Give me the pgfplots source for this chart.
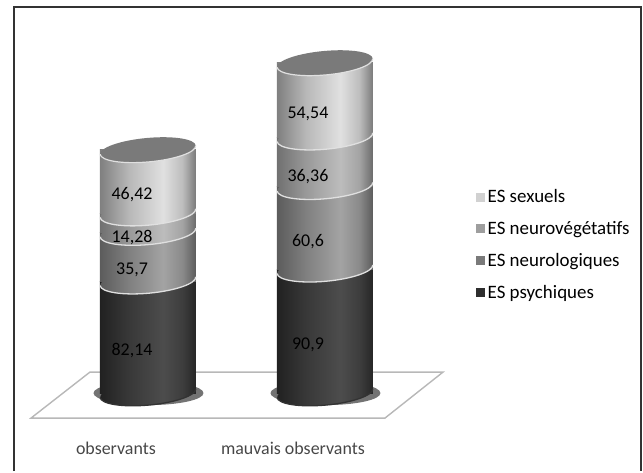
\documentclass[border=0pt]{standalone}
\usepackage{fontspec}
\setmainfont{Carlito}
\usepackage{pgfplots}
\pgfplotsset{compat=1.18}

% cylinder shadings, one per segment (only 25bp..75bp of a shading shows on a path)
\pgfdeclarehorizontalshading{cylD}{100bp}{rgb(0bp)=(.13,.13,.13); rgb(25bp)=(.13,.13,.13); rgb(40bp)=(.22,.22,.22); rgb(58bp)=(.30,.30,.30); rgb(68bp)=(.24,.24,.24); rgb(75bp)=(.15,.15,.15); rgb(100bp)=(.15,.15,.15)}
\pgfdeclarehorizontalshading{cylC}{100bp}{rgb(0bp)=(.36,.36,.36); rgb(25bp)=(.36,.36,.36); rgb(40bp)=(.50,.50,.50); rgb(58bp)=(.64,.64,.64); rgb(68bp)=(.54,.54,.54); rgb(75bp)=(.36,.36,.36); rgb(100bp)=(.36,.36,.36)}
\pgfdeclarehorizontalshading{cylB}{100bp}{rgb(0bp)=(.44,.44,.44); rgb(25bp)=(.44,.44,.44); rgb(40bp)=(.60,.60,.60); rgb(58bp)=(.74,.74,.74); rgb(68bp)=(.64,.64,.64); rgb(75bp)=(.42,.42,.42); rgb(100bp)=(.42,.42,.42)}
\pgfdeclarehorizontalshading{cylA}{100bp}{rgb(0bp)=(.50,.50,.50); rgb(25bp)=(.50,.50,.50); rgb(40bp)=(.72,.72,.72); rgb(58bp)=(.88,.88,.88); rgb(68bp)=(.74,.74,.74); rgb(75bp)=(.48,.48,.48); rgb(100bp)=(.48,.48,.48)}

\definecolor{rimc}{gray}{0.88}

% the ellipse is only a clip; the shade is laid out upright, as on the bars
\newcommand{\cylmark}[3]{%
  \pgfdeclareplotmark{#1}{%
    \pgfscope
      \pgftransformrotate{5.2}%
      \pgfpathellipse{\pgfpointorigin}{\pgfqpoint{48bp}{0bp}}{\pgfqpoint{0bp}{12bp}}%
      \pgfusepath{clip}%
      \pgftransformrotate{-5.2}%
      \pgfpathrectangle{\pgfqpoint{-48bp}{-30bp}}{\pgfqpoint{96bp}{60bp}}%
      \pgfshadepath{#2}{0}%
      \pgfusepath{discard}%
    \endpgfscope
    \pgftransformrotate{5.2}%
    \pgfsetstrokecolor{#3}\pgfsetlinewidth{1.3bp}%
    \pgfpathmoveto{\pgfqpoint{-48bp}{0bp}}%
    \pgfpatharc{180}{360}{48bp and 12bp}%
    \pgfusepath{stroke}%
  }%
}
\cylmark{baseD}{cylD}{black!80}
\cylmark{baseC}{cylC}{rimc}
\cylmark{baseB}{cylB}{rimc}
\cylmark{baseA}{cylA}{rimc}
\pgfdeclareplotmark{cyltop}{%
  \pgftransformrotate{5.2}%
  \pgfsetfillcolor{black!52}\pgfsetstrokecolor{rimc}\pgfsetlinewidth{1.2bp}%
  \pgfpathellipse{\pgfpointorigin}{\pgfqpoint{48bp}{0bp}}{\pgfqpoint{0bp}{12bp}}%
  \pgfusepath{fill}%
  \pgfpathmoveto{\pgfqpoint{-48bp}{0bp}}%
  \pgfpatharc{180}{360}{48bp and 12bp}%
  \pgfusepath{stroke}%
}
\pgfdeclareplotmark{floorshadow}{%
  \pgfsetfillcolor{black!55}%
  \pgfpathellipse{\pgfpointorigin}{\pgfqpoint{55bp}{0bp}}{\pgfqpoint{0bp}{12bp}}%
  \pgfusepath{fill}%
}

% one axis per cylinder, so that each bar gets a shade of its own
\pgfplotsset{
  seg/.style={ybar, bar shift=0pt, bar width=96bp, draw=none, shade, shading=#1, forget plot},
  ring/.style={stack plots=false, sharp plot, only marks, mark=#1, forget plot},
  cylax/.style={
    scale only axis, width=643bp, height=471bp,
    xmin=-0.836, xmax=2.797, ymin=-57.27, ymax=288.55,
    clip=false,
    axis line style={draw=none},
    major tick length=0pt,
    ytick=\empty,
  },
  stackax/.style={cylax, xtick=\empty, stack plots=y, reverse stacked plots=false},
}

\begin{document}
\begin{tikzpicture}
% frame, floor, shadows and category names
\begin{axis}[
  cylax,
  xtick={-0.181,0.819},
  xticklabels={observants,mauvais observants},
  xticklabel style={font=\fontsize{18}{20}\selectfont, text=black!72, anchor=base, yshift=17bp},
]
\addplot[sharp plot, line width=2bp, black!80, forget plot] coordinates {
  (-0.757,-57.27) (-0.757,283.4) (2.785,283.4) (2.785,-57.27)};
\addplot[sharp plot, line width=1.4bp, black!28, fill=white, forget plot] coordinates {
  (-0.328,15.42) (1.667,15.42) (1.339,-18.36) (-0.661,-18.36)} -- cycle;
\addplot[only marks, mark=floorshadow, forget plot] coordinates {(0.003,0) (1.003,0)};
\end{axis}

% observants: segments, bottom to top; rings sit at the cumulated height
\begin{axis}[stackax]
\addplot[seg=cylD] coordinates {(0,82.14)};
\addplot[ring=baseD] coordinates {(0,0)};
\addplot[seg=cylC] coordinates {(0,35.7)};
\addplot[ring=baseC] coordinates {(0,82.14)};
\addplot[seg=cylB] coordinates {(0,14.28)};
\addplot[ring=baseB] coordinates {(0,117.84)};
\addplot[seg=cylA] coordinates {(0,46.42)};
\addplot[ring=baseA] coordinates {(0,132.12)};
\addplot[ring=cyltop] coordinates {(0,178.54)};
\end{axis}

% mauvais observants, value labels and legend
\begin{axis}[
  stackax,
  legend cell align=left,
  legend style={at={(476bp,284bp)}, anchor=north west, draw=none, fill=none,
    font=\fontsize{19}{21}\selectfont, row sep=12.2bp, inner sep=0pt,
    nodes={inner sep=2.5bp}},
  legend image code/.code={\fill[#1] (0bp,-4.5bp) rectangle (9bp,4.5bp);},
]
\addplot[seg=cylD] coordinates {(1,90.9)};
\addplot[ring=baseD] coordinates {(1,0)};
\addplot[seg=cylC] coordinates {(1,60.6)};
\addplot[ring=baseC] coordinates {(1,90.9)};
\addplot[seg=cylB] coordinates {(1,36.36)};
\addplot[ring=baseB] coordinates {(1,151.5)};
\addplot[seg=cylA] coordinates {(1,54.54)};
\addplot[ring=baseA] coordinates {(1,187.86)};
\addplot[ring=cyltop] coordinates {(1,242.4)};

\addplot[stack plots=false, sharp plot, only marks, mark=none, forget plot,
  nodes near coords, point meta=explicit symbolic,
  nodes near coords align={anchor=center},
  every node near coord/.append style={font=\fontsize{18}{20}\selectfont, text=black, inner sep=0pt},
] table[meta=l, row sep=\\] {
  x y l \\
  -0.09 145.4 46,42 \\
  -0.09 114.5 14,28 \\
  -0.09 90.3 35,7 \\
  -0.09 31.6 82,14 \\
  0.904 204.8 54,54 \\
  0.904 159.3 36,36 \\
  0.904 111.6 60,6 \\
  0.904 35.2 90,9 \\
};

\addlegendimage{fill=black!18, draw=none, forget plot}
\addlegendentry{ES sexuels}
\addlegendimage{fill=black!38, draw=none, forget plot}
\addlegendentry{ES neurovégétatifs}
\addlegendimage{fill=black!52, draw=none, forget plot}
\addlegendentry{ES neurologiques}
\addlegendimage{fill=black!82, draw=none, forget plot}
\addlegendentry{ES psychiques}
\end{axis}
\end{tikzpicture}
\end{document}
